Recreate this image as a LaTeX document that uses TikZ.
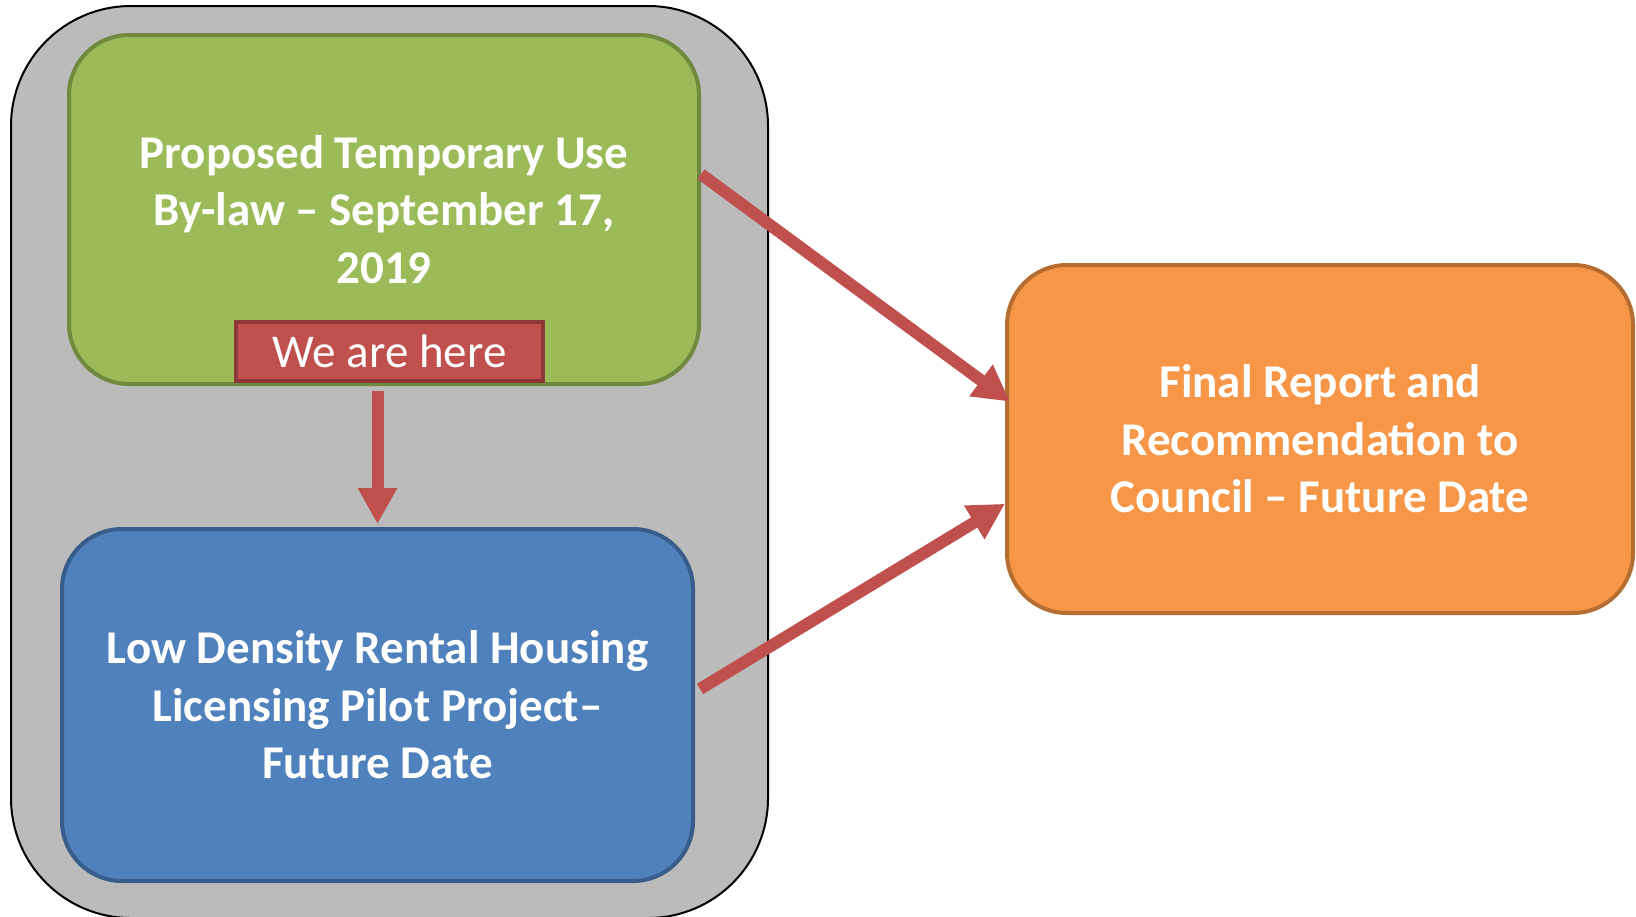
\documentclass[tikz,border=0pt]{standalone}
\usepackage{fontspec}
\setmainfont{Carlito}
\usetikzlibrary{arrows.meta,calc}
\definecolor{grayfill}{HTML}{BBBBBB}
\definecolor{greenfill}{HTML}{9BBB59}
\definecolor{greenline}{HTML}{71893F}
\definecolor{redfill}{HTML}{C0504D}
\definecolor{redline}{HTML}{8C3836}
\definecolor{bluefill}{HTML}{4F81BD}
\definecolor{blueline}{HTML}{385D8A}
\definecolor{orangefill}{HTML}{F79646}
\definecolor{orangeline}{HTML}{B66D31}
\begin{document}
\begin{tikzpicture}[x=0.5pt,y=-0.5pt,
  box/.style={draw, line width=2pt, rounded corners=30pt, text=white, align=center,
    font=\bfseries\fontsize{23.5}{28.75}\selectfont, inner sep=0pt},
  conn/.style={draw=redfill, line width=6pt, -{Triangle[length=18pt,width=18.5pt]}}
]
\useasboundingbox (0,0) rectangle (1636,916);
\node[draw=black, line width=1pt, fill=grayfill, rounded corners=60pt,
  minimum width=378.5pt, minimum height=456pt, inner sep=0pt] (group) at (389.5,462) {};
\node[box, draw=greenline, fill=greenfill, minimum width=315pt, minimum height=174.5pt]
  (green) at (384,209.5) {Proposed Temporary Use\\By-law – September 17,\\2019};
\node[draw=redline, fill=redfill, line width=2pt, text=white, inner sep=0pt,
  font=\fontsize{23.5}{28.75}\selectfont, minimum width=153.5pt, minimum height=29.5pt]
  (here) at (389.5,351.5) {We are here};
\node[box, draw=blueline, fill=bluefill, minimum width=315.5pt, minimum height=176pt]
  (blue) at (377.5,705) {Low Density Rental Housing\\Licensing Pilot Project–\\Future Date};
\node[box, draw=orangeline, fill=orangefill, minimum width=313pt, minimum height=174pt]
  (orange) at (1320,439) {Final Report and\\Recommendation to\\Council – Future Date};
\draw[conn] ($(blue.north |- here.south)+(0,8)$) -- ($(blue.north)+(0,-3)$);
\draw[conn] ($(green.north east)!0.4!(green.south east)$) --
  ($(orange.north west)!0.394!(orange.south west)+(5,0)$);
\draw[conn] ($(blue.north east)!0.455!(blue.south east)+(5,0)$) --
  ($(orange.north west)!0.684!(orange.south west)$);
\end{tikzpicture}
\end{document}
